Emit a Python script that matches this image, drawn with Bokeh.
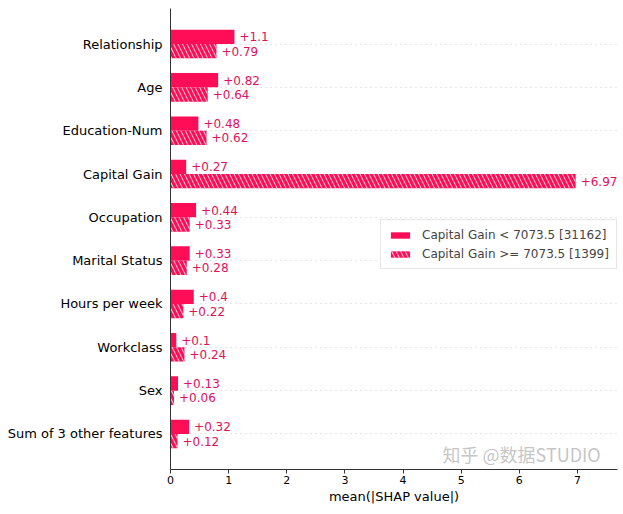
from bokeh.plotting import figure
from bokeh.models import ColumnDataSource, Range1d, FixedTicker, Legend, LegendItem, Label
from bokeh.embed import file_html
from bokeh.resources import INLINE
from bokeh.core.properties import value

features = ["Relationship", "Age", "Education-Num", "Capital Gain", "Occupation",
            "Marital Status", "Hours per week", "Workclass", "Sex", "Sum of 3 other features"]
cohort_low = [1.1, 0.82, 0.48, 0.27, 0.44, 0.33, 0.4, 0.1, 0.13, 0.32]
cohort_high = [0.79, 0.64, 0.62, 6.97, 0.33, 0.28, 0.22, 0.24, 0.06, 0.12]
cohort_names = ["Capital Gain < 7073.5 [31162]", "Capital Gain >= 7073.5 [1399]"]
x_ticks = [0, 1, 2, 3, 4, 5, 6, 7]
watermark = "知乎 @数据STUDIO"

RED = "#ff0d57"
TXT = "#e0115a"
FONT = "DejaVu Sans"

n = len(features)
rows = [n - 1 - i for i in range(n)]
off = 0.165
h = 0.33

def fmt(v):
    s = ("%.2f" % v).rstrip("0").rstrip(".")
    return "+" + s

src_low = ColumnDataSource(dict(y=[r + off for r in rows], v=cohort_low,
                                lab=[fmt(v) for v in cohort_low]))
src_high = ColumnDataSource(dict(y=[r - off for r in rows], v=cohort_high,
                                 lab=[fmt(v) for v in cohort_high]))

p = figure(width=620, height=506, output_backend="svg", toolbar_location=None,
           x_range=Range1d(0, 7.69), y_range=Range1d(-0.82, n - 1 + 0.82),
           min_border_left=170, min_border_right=3, min_border_top=8, min_border_bottom=33)
p.outline_line_color = None
p.background_fill_color = "white"

r1 = p.hbar(y="y", left=0, right="v", height=h, source=src_low,
            fill_color=RED, line_color=None)
r2 = p.hbar(y="y", left=0, right="v", height=h, source=src_high,
            fill_color=RED, line_color=None,
            hatch_pattern="\\", hatch_color="white", hatch_alpha=0.85,
            hatch_scale=9, hatch_weight=1)

for s in (src_low, src_high):
    p.text(x="v", y="y", text="lab", source=s, x_offset=5,
           text_baseline="middle", text_align="left", text_color=TXT,
           text_font=value(FONT), text_font_size="12px")

# axes
p.xaxis.ticker = FixedTicker(ticks=x_ticks)
p.xaxis.axis_label = "mean(|SHAP value|)"
p.xaxis.axis_label_text_font = FONT
p.xaxis.axis_label_text_font_style = "normal"
p.xaxis.axis_label_text_font_size = "13px"
p.xaxis.axis_label_standoff = 2
p.xaxis.major_label_text_font = FONT
p.xaxis.major_label_text_font_size = "11px"
p.xaxis.major_label_standoff = 2
p.xaxis.minor_tick_line_color = None
p.xaxis.major_tick_out = 4
p.xaxis.major_tick_in = 0
p.xaxis.axis_line_color = "#333333"
p.xaxis.major_tick_line_color = "#333333"
p.xaxis.major_label_text_color = "black"
p.xaxis.axis_label_text_color = "black"

p.yaxis.ticker = FixedTicker(ticks=rows)
p.yaxis.major_label_overrides = {r: f for r, f in zip(rows, features)}
p.yaxis.major_label_text_font = FONT
p.yaxis.major_label_text_font_size = "13px"
p.yaxis.major_label_text_color = "black"
p.yaxis.major_tick_line_color = None
p.yaxis.minor_tick_line_color = None
p.yaxis.major_tick_out = 0
p.yaxis.major_tick_in = 0
p.yaxis.major_label_standoff = 8
p.yaxis.axis_line_color = "#333333"

p.xgrid.grid_line_color = None
p.ygrid.ticker = FixedTicker(ticks=rows)
p.ygrid.grid_line_color = "#cccccc"
p.ygrid.grid_line_dash = "1 4"
p.ygrid.grid_line_width = 1

legend = Legend(items=[LegendItem(label=cohort_names[0], renderers=[r1]),
                       LegendItem(label=cohort_names[1], renderers=[r2])],
                location=(210, 200))
legend.label_text_font = FONT
legend.label_text_font_size = "12px"
legend.glyph_width = 24
legend.glyph_height = 8
legend.label_height = 15
legend.label_standoff = 10
legend.spacing = 4
legend.padding = 7
legend.margin = 0
legend.border_line_color = "#cccccc"
legend.border_line_width = 1
legend.background_fill_alpha = 0.9
p.add_layout(legend)

# watermark, kept inside the frame (content outside the frame is clipped)
wm = Label(x=272, y=3, x_units="screen", y_units="screen", text=watermark,
           text_font="Noto Sans CJK SC", text_font_size="18px", text_color="#bbbbbb",
           text_alpha=0.85, text_baseline="bottom")
p.add_layout(wm)

open("out.html", "w").write(file_html(p, INLINE))
